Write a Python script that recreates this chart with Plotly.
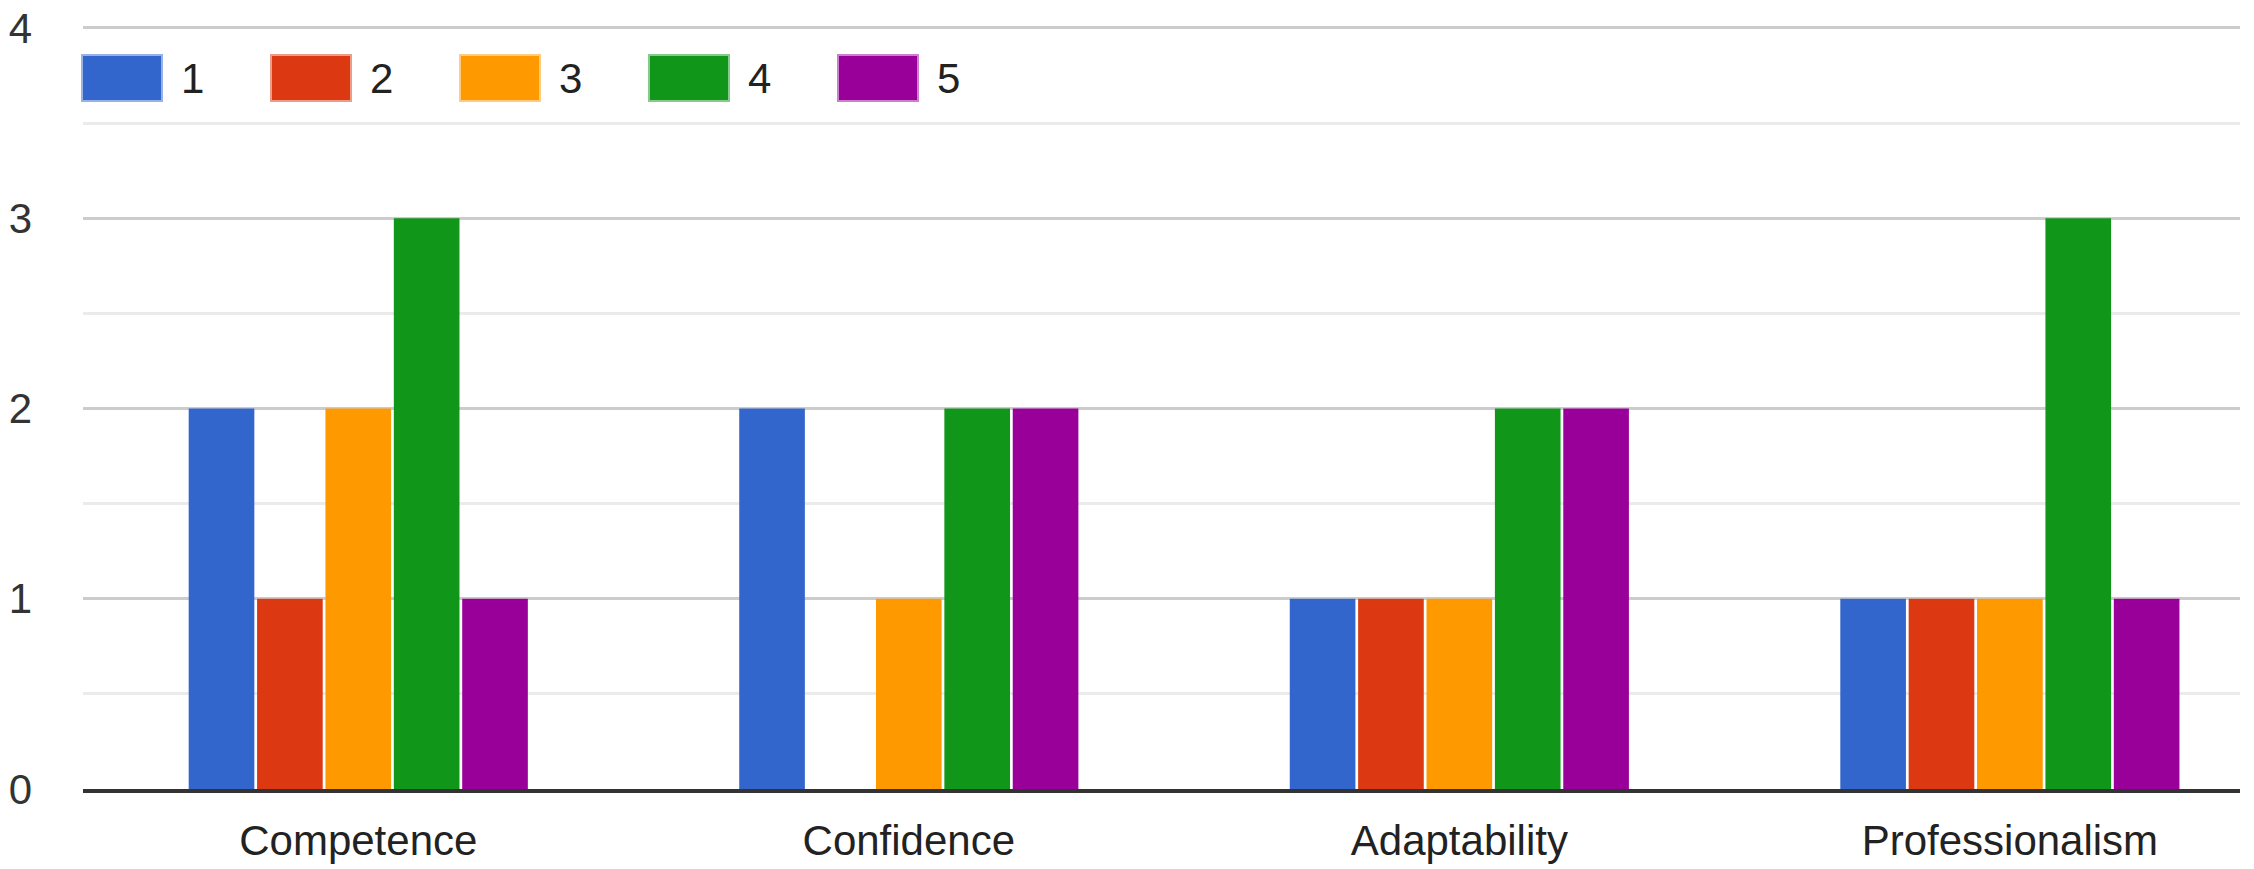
import plotly.graph_objects as go

categories = ["Competence", "Confidence", "Adaptability", "Professionalism"]
series_names = ["1", "2", "3", "4", "5"]
values_1 = [2, 2, 1, 1]
values_2 = [1, 0, 1, 1]
values_3 = [2, 1, 1, 1]
values_4 = [3, 2, 2, 3]
values_5 = [1, 2, 2, 1]
colors = ["#3366cc", "#dc3912", "#ff9900", "#109618", "#990099"]
border_colors = ["rgba(51,102,204,0.5)", "rgba(220,57,18,0.5)", "rgba(255,153,0,0.5)",
                 "rgba(16,150,24,0.5)", "rgba(153,0,153,0.5)"]
y_ticks = [0, 1, 2, 3, 4]

W, H = 2254, 869
ML, MR, MT, MB = 83, 14, 26, 80
PW = W - ML - MR
PH = H - MT - MB

all_values = [values_1, values_2, values_3, values_4, values_5]

fig = go.Figure()
for name, vals, col in zip(series_names, all_values, colors):
    fig.add_trace(go.Bar(name=name, x=categories, y=vals, marker=dict(color=col, line=dict(width=0)),
                         showlegend=False))

# custom legend (rectangular swatches like the reference)
font_family = "Liberation Sans, Arial, sans-serif"
shapes = []
annotations = []
leg_cy = (H - MB - 78) / PH
box_w = 78 / PW
box_h = 44 / PH
step = 189 / PW
x_start = 0.0
for i, (name, col, bcol) in enumerate(zip(series_names, colors, border_colors)):
    x0 = x_start + i * step
    shapes.append(dict(type="rect", xref="paper", yref="paper",
                       x0=x0, x1=x0 + box_w, y0=leg_cy - box_h / 2, y1=leg_cy + box_h / 2,
                       fillcolor=col, line=dict(color=bcol, width=4), layer="above"))
    annotations.append(dict(xref="paper", yref="paper", x=x0 + 96 / PW, y=leg_cy,
                            text=name, showarrow=False, xanchor="left", yanchor="middle",
                            font=dict(size=42, color="#222222", family=font_family)))

fig.update_layout(
    width=W, height=H,
    margin=dict(l=ML, r=MR, t=MT, b=MB, autoexpand=False),
    paper_bgcolor="white", plot_bgcolor="white",
    barmode="group", bargap=0.379, bargroupgap=0.04,
    font=dict(family=font_family, size=42, color="#222222"),
    shapes=shapes, annotations=annotations,
    xaxis=dict(showgrid=False, showline=True, linecolor="#333333", linewidth=4, automargin=False,
               range=[-0.5, 3.418],
               ticks="", ticklabelstandoff=12, tickfont=dict(size=42, color="#222222")),
    yaxis=dict(range=[0, 4.01], tickvals=y_ticks, showgrid=True, gridcolor="#cccccc", gridwidth=3,
               zeroline=False, ticks="", ticklabelstandoff=50, automargin=False,
               tickfont=dict(size=42, color="#333333"),
               minor=dict(dtick=0.5, showgrid=True, gridcolor="#ebebeb", gridwidth=3)),
)

fig.write_html("out.html", config={"displayModeBar": False},
               post_script="document.body.style.margin='0px';document.body.style.overflow='hidden';")
